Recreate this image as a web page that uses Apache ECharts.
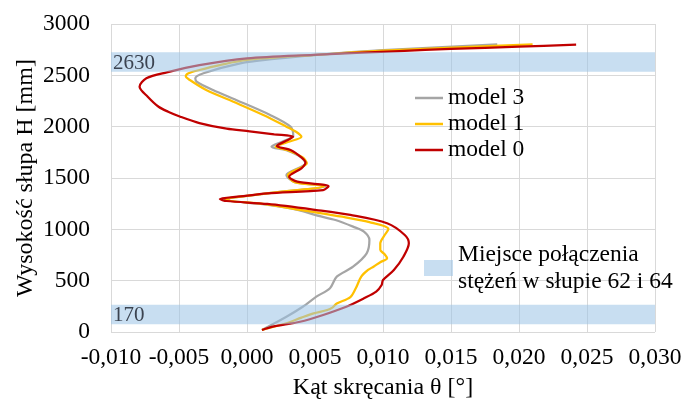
<!doctype html>
<html lang="pl">
<head>
    <meta charset="UTF-8">
    <title>Kąt skręcania słupa</title>
</head>
<body style="margin:0">
    <script src="https://cdn.jsdelivr.net/npm/echarts@6/dist/echarts.min.js"></script>
    <div id="chart" style="width: 685px; height: 405px"></div>

    <script>
        // model 0
        var heights0 = [20, 52, 100, 166, 246, 328, 393, 458, 506, 604, 733, 864, 945, 1059, 1140, 1188, 1247, 1276, 1295, 1320, 1351, 1383, 1420, 1464, 1513, 1594, 1650, 1700, 1773, 1812, 1870, 1902, 1925, 1955, 1980, 2035, 2097, 2146, 2194, 2292, 2390, 2471, 2529, 2600, 2666, 2700, 2737, 2757, 2779, 2798];
        var angles0 = [0.0011, 0.0019, 0.0039, 0.0056, 0.0073, 0.0086, 0.0095, 0.0099, 0.0100, 0.0108, 0.0115, 0.0119, 0.0116, 0.0103, 0.0076, 0.0051, 0.0015, -0.0015, -0.0020, -0.0005, 0.0015, 0.0056, 0.0060, 0.0037, 0.0031, 0.0040, 0.0043, 0.0040, 0.0032, 0.0022, 0.0030, 0.0034, 0.0020, 0.0002, -0.0015, -0.0035, -0.0049, -0.0058, -0.0065, -0.0073, -0.0079, -0.0074, -0.0059, -0.0035, 0.0000, 0.0049, 0.0112, 0.0150, 0.0200, 0.0242];

        // model 1
        var heights1 = [20, 85, 140, 182, 214, 240, 277, 340, 426, 539, 604, 636, 680, 718, 760, 800, 864, 940, 1003, 1070, 1123, 1179, 1247, 1276, 1295, 1320, 1351, 1422, 1460, 1529, 1643, 1700, 1770, 1805, 1850, 1902, 1950, 2000, 2114, 2243, 2357, 2454, 2490, 2520, 2552, 2600, 2650, 2698, 2740, 2775, 2802];
        var angles1 = [0.0011, 0.0029, 0.0040, 0.0049, 0.0059, 0.0063, 0.0066, 0.0076, 0.0080, 0.0084, 0.0089, 0.0093, 0.0098, 0.0103, 0.0101, 0.0098, 0.0098, 0.0101, 0.0104, 0.0090, 0.0070, 0.0044, 0.0012, -0.0012, -0.0016, -0.0003, 0.0015, 0.0057, 0.0035, 0.0030, 0.0044, 0.0041, 0.0030, 0.0021, 0.0030, 0.0040, 0.0036, 0.0029, 0.0012, -0.0010, -0.0030, -0.0042, -0.0045, -0.0043, -0.0035, -0.0020, 0.0000, 0.0049, 0.0100, 0.0160, 0.0210];

        // model 3
        var heights3 = [20, 149, 246, 344, 426, 539, 636, 766, 896, 977, 1026, 1091, 1140, 1188, 1247, 1276, 1295, 1320, 1351, 1422, 1460, 1529, 1643, 1700, 1770, 1805, 1860, 1915, 2000, 2114, 2260, 2357, 2438, 2471, 2520, 2617, 2660, 2698, 2745, 2802];
        var angles3 = [0.0011, 0.0029, 0.0041, 0.0051, 0.0061, 0.0066, 0.0078, 0.0088, 0.0090, 0.0086, 0.0078, 0.0065, 0.0050, 0.0038, 0.0010, -0.0012, -0.0016, -0.0003, 0.0015, 0.0058, 0.0035, 0.0029, 0.0043, 0.0040, 0.0029, 0.0018, 0.0027, 0.0034, 0.0032, 0.0017, -0.0008, -0.0025, -0.0037, -0.0038, -0.0032, -0.0005, 0.0020, 0.0049, 0.0100, 0.0184];

        // miejsca połączenia stężeń (środek pasa, mm)
        var bandCenters = [170, 2630];
        var bandHalf = 95;
        var bandName = 'Miejsce połączenia\nstężeń w słupie 62 i 64';

        var xMin = -0.01, xMax = 0.03;
        var serif = '"Liberation Serif", "Times New Roman", serif';
        var bandColor = 'rgba(155, 194, 230, 0.55)';

        function pairs(h, a) {
            return h.map(function (v, i) { return [a[i], v]; });
        }

        function lineSeries(name, color, h, a) {
            return {
                name: name,
                type: 'line',
                data: pairs(h, a),
                smooth: 0.3,
                symbol: 'none',
                lineStyle: { color: color, width: 2.25 },
                itemStyle: { color: color }
            };
        }

        var option = {
            animation: false,
            backgroundColor: '#fff',
            grid: { left: 111, top: 24, right: 30, bottom: 73, outerBoundsMode: 'none' },
            xAxis: {
                type: 'value',
                min: xMin,
                max: xMax,
                interval: 0.005,
                name: 'Kąt skręcania θ [°]',
                nameLocation: 'middle',
                nameGap: 44,
                nameMoveOverlap: false,
                nameTextStyle: { fontFamily: serif, fontSize: 24, color: '#000' },
                axisLine: { show: false },
                axisTick: { show: false },
                axisLabel: {
                    fontFamily: serif, fontSize: 23.5, color: '#000', margin: 14,
                    formatter: function (v) { return v.toFixed(3).replace('.', ','); }
                },
                splitLine: { lineStyle: { color: '#d9d9d9', width: 1 } }
            },
            yAxis: {
                type: 'value',
                min: 0,
                max: 3000,
                interval: 500,
                name: 'Wysokość słupa H [mm]',
                nameLocation: 'middle',
                nameRotate: 90,
                nameGap: 73,
                nameMoveOverlap: false,
                nameTextStyle: { fontFamily: serif, fontSize: 24, color: '#000' },
                axisLine: { show: false },
                axisTick: { show: false },
                axisLabel: {
                    fontFamily: serif, fontSize: 23.5, color: '#000', margin: 21,
                    formatter: function (v) { return String(v); }
                },
                splitLine: { lineStyle: { color: '#d9d9d9', width: 1 } }
            },
            legend: [
                {
                    data: ['model 3', 'model 1', 'model 0'],
                    orient: 'vertical',
                    left: 415,
                    top: 85,
                    padding: 0,
                    icon: 'rect',
                    itemWidth: 28,
                    itemHeight: 2.5,
                    itemGap: 0,
                    textStyle: { fontFamily: serif, fontSize: 23.5, color: '#000', lineHeight: 26 }
                },
                {
                    data: [{ name: bandName, icon: 'rect', itemStyle: { color: bandColor } }],
                    left: 424,
                    top: 241,
                    padding: 0,
                    itemWidth: 29,
                    itemHeight: 16,
                    textStyle: { fontFamily: serif, fontSize: 23.5, color: '#000', lineHeight: 27 }
                }
            ],
            series: [
                lineSeries('model 3', '#a5a5a5', heights3, angles3),
                lineSeries('model 1', '#ffc000', heights1, angles1),
                lineSeries('model 0', '#c00000', heights0, angles0),
                {
                    name: bandName,
                    type: 'custom',
                    z: 10,
                    silent: true,
                    clip: false,
                    itemStyle: { color: bandColor },
                    data: bandCenters.map(function (c) { return [c - bandHalf, c + bandHalf, c]; }),
                    encode: { y: [0, 1] },
                    renderItem: function (params, api) {
                        var lo = api.coord([xMin, api.value(0)]);
                        var hi = api.coord([xMax, api.value(1)]);
                        return {
                            type: 'group',
                            children: [
                                {
                                    type: 'rect',
                                    shape: { x: lo[0], y: hi[1], width: hi[0] - lo[0], height: lo[1] - hi[1] },
                                    style: { fill: bandColor }
                                },
                                {
                                    type: 'text',
                                    x: lo[0] + 2,
                                    y: (lo[1] + hi[1]) / 2 + 1,
                                    style: {
                                        text: String(api.value(2)),
                                        fill: '#3b4350',
                                        font: '21px ' + serif,
                                        align: 'left',
                                        verticalAlign: 'middle'
                                    }
                                }
                            ]
                        };
                    }
                }
            ]
        };

        var chart = echarts.init(document.getElementById('chart'));
        chart.setOption(option);
    </script>
</body>
</html>
